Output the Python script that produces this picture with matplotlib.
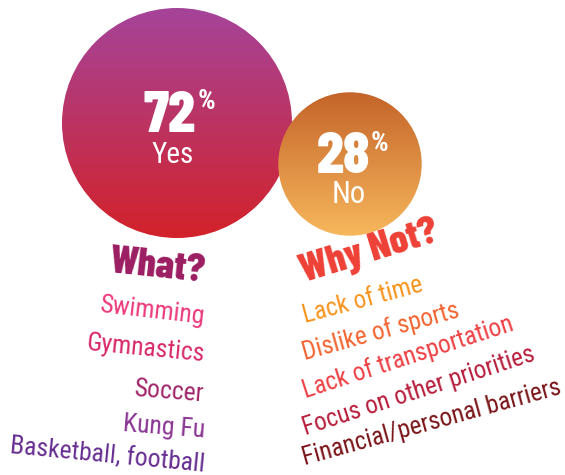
import numpy as np
import matplotlib
matplotlib.use("Agg")
import matplotlib.pyplot as plt
from matplotlib.patches import Circle
from matplotlib.colors import LinearSegmentedColormap

plt.rcParams['font.family'] = ['Roboto Condensed', 'DejaVu Sans']
HEAVY = ['Barlow Condensed', 'Roboto Condensed', 'DejaVu Sans']

# yes / no split
shares = [72, 28]
share_labels = ['Yes', 'No']

what_items = ['Swimming', 'Gymnastics', 'Soccer', 'Kung Fu', 'Basketball, football']
what_colors = ['#EC3A7C', '#D8286A', '#A0246A', '#8A3593', '#662D91']

whynot_items = ['Lack of time', 'Dislike of sports', 'Lack of transportation',
                'Focus on other priorities', 'Financial/personal barriers']
whynot_colors = ['#F7941D', '#F26430', '#EE4045', '#B71E3C', '#7A1519']

W, H = 565, 475
fig = plt.figure(figsize=(W / 100, H / 100), dpi=100)
ax = fig.add_axes([0, 0, 1, 1])
ax.set_xlim(0, W)
ax.set_ylim(H, 0)
ax.axis('off')

# circle area scales with the share
r_big = 115
r_small = r_big * np.sqrt(shares[1] / shares[0])
circles = [((177, 123), r_big, ('#A5449A', '#D3222A')),
           ((350, 164), r_small, ('#C4642A', '#F7B75C'))]

grad = np.linspace(0, 1, 256).reshape(-1, 1)
for (cx, cy), r, (c_top, c_bot) in circles:
    cmap = LinearSegmentedColormap.from_list('g', [c_top, c_bot])
    patch = Circle((cx, cy), r, facecolor='none', edgecolor='none')
    ax.add_patch(patch)
    im = ax.imshow(grad, cmap=cmap, extent=[cx - r, cx + r, cy + r, cy - r],
                   aspect='auto', interpolation='bilinear', zorder=1)
    im.set_clip_path(patch)

ax.set_xlim(0, W)
ax.set_ylim(H, 0)

# percentages
ax.text(196, 132, str(shares[0]), color='white', fontsize=43, fontweight='heavy',
        family=HEAVY, ha='right', va='baseline', zorder=3)
ax.text(198, 109, '%', color='white', fontsize=20, fontweight='bold',
        ha='left', va='baseline', zorder=3)
ax.text(173, 163, share_labels[0], color='white', fontsize=21,
        ha='center', va='baseline', zorder=3)

ax.text(370, 173, str(shares[1]), color='white', fontsize=43, fontweight='heavy',
        family=HEAVY, ha='right', va='baseline', zorder=3)
ax.text(371, 151, '%', color='white', fontsize=20, fontweight='bold',
        ha='left', va='baseline', zorder=3)
ax.text(349, 203, share_labels[1], color='white', fontsize=22,
        ha='center', va='baseline', zorder=3)

# What? column, right aligned
ax.text(204, 282, 'What?', color='#9C1D62', fontsize=29, fontweight='heavy',
        family=HEAVY, ha='right', va='baseline', rotation=-6, rotation_mode='anchor')
what_y = [324, 361, 401, 437, 472]
what_rot = [-6.5, -5.5, -4.5, -4.5, -5.5]
for item, c, y, rot in zip(what_items, what_colors, what_y, what_rot):
    ax.text(204, y, item, color=c, fontsize=18.5, ha='right', va='baseline',
            rotation=rot, rotation_mode='anchor')

# Why Not? column, left aligned
ax.text(304, 282, 'Why Not?', color='#EE4036', fontsize=29, fontweight='heavy',
        family=HEAVY, ha='left', va='baseline', rotation=17, rotation_mode='anchor')
why_y = [323, 360, 398, 435, 465]
why_rot = [15, 15.5, 18, 18, 15.5]
for item, c, y, rot in zip(whynot_items, whynot_colors, why_y, why_rot):
    ax.text(305, y, item, color=c, fontsize=18.2, ha='left', va='baseline',
            rotation=rot, rotation_mode='anchor')

fig.savefig('out.png', dpi=100)
